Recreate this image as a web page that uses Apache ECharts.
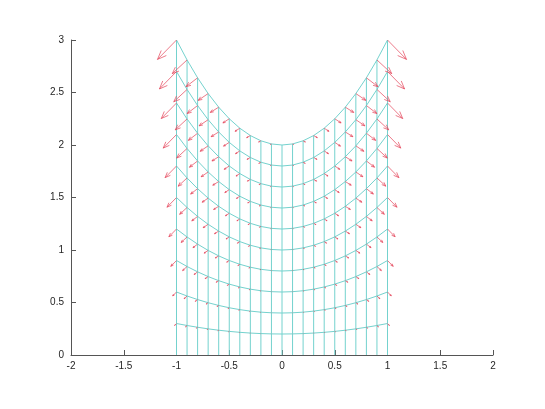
<!DOCTYPE html>
<html>
<head>
<meta charset="utf-8">
<script src="https://cdn.jsdelivr.net/npm/echarts@6/dist/echarts.min.js"></script>
<style>html,body{margin:0;padding:0;background:#fff;}#chart{width:545px;height:409px;}</style>
</head>
<body>
<div id="chart"></div>
<script>
// grid columns (x positions of mesh lines)
const xs = [-1,-0.9,-0.8,-0.7,-0.6,-0.5,-0.4,-0.3,-0.2,-0.1,0,0.1,0.2,0.3,0.4,0.5,0.6,0.7,0.8,0.9,1];
// top-curve height at each column
const profile = [3,2.81,2.64,2.49,2.36,2.25,2.16,2.09,2.04,2.01,2,2.01,2.04,2.09,2.16,2.25,2.36,2.49,2.64,2.81,3];
// level fractions of each mesh row
const levels = [0,0.1,0.2,0.3,0.4,0.5,0.6,0.7,0.8,0.9,1];
// arrow components at the top row (scaled by level for lower rows)
const arrowU = [-0.18,-0.14,-0.11,-0.095,-0.08,-0.06,-0.045,-0.035,-0.022,-0.01,0,0.01,0.022,0.035,0.045,0.06,0.08,0.095,0.11,0.14,0.18];
const arrowV = [-0.185,-0.13,-0.085,-0.065,-0.05,-0.04,-0.03,-0.02,-0.012,-0.005,0,-0.005,-0.012,-0.02,-0.03,-0.04,-0.05,-0.065,-0.085,-0.13,-0.185];
// axis ticks
const xTicks = [-2,-1.5,-1,-0.5,0,0.5,1,1.5,2];
const yTicks = [0,0.5,1,1.5,2,2.5,3];

const meshColor = '#74d2ce';
const arrowColor = '#e4475c';
const series = [];

// row curves
levels.forEach((t, j) => {
  if (t === 0) return;
  series.push({
    type: 'line', silent: true, showSymbol: false, animation: false,
    lineStyle: { color: meshColor, width: 1 },
    data: xs.map((x, i) => [x, t * profile[i]])
  });
});
// column lines
xs.forEach((x, i) => {
  series.push({
    type: 'line', silent: true, showSymbol: false, animation: false,
    lineStyle: { color: meshColor, width: 1 },
    data: levels.map(t => [x, t * profile[i]])
  });
});
// arrows
const arrowData = [];
levels.forEach(t => {
  if (t === 0) return;
  xs.forEach((x, i) => {
    arrowData.push([x, t * profile[i], t * arrowU[i], t * arrowV[i]]);
  });
});
series.push({
  type: 'custom', silent: true, animation: false, z: 5,
  encode: { x: 0, y: 1 },
  data: arrowData,
  renderItem: function (params, api) {
    const x = api.value(0), y = api.value(1), u = api.value(2), v = api.value(3);
    const p0 = api.coord([x, y]);
    const p1 = api.coord([x + u, y + v]);
    const dx = p1[0] - p0[0], dy = p1[1] - p0[1];
    const a = 0.33, b = 0.4;
    const h1 = [p1[0] - a * (dx + b * dy), p1[1] - a * (dy - b * dx)];
    const h2 = [p1[0] - a * (dx - b * dy), p1[1] - a * (dy + b * dx)];
    return {
      type: 'group',
      children: [
        { type: 'polyline', shape: { points: [p0, p1] }, style: { stroke: arrowColor, lineWidth: 0.8, fill: null, opacity: 0.9 } },
        { type: 'polyline', shape: { points: [h1, p1, h2] }, style: { stroke: arrowColor, lineWidth: 0.8, fill: null, opacity: 0.9 } }
      ]
    };
  }
});

const axisCommon = {
  axisLine: { show: true, onZero: false, lineStyle: { color: '#555', width: 1 } },
  axisTick: { show: true, inside: true, length: 5, lineStyle: { color: '#555' } },
  splitLine: { show: false },
  axisLabel: { color: '#262626', fontFamily: 'Liberation Sans, Helvetica, Arial', fontSize: 10 }
};

const chart = echarts.init(document.getElementById('chart'), null, { renderer: 'canvas' });
chart.setOption({
  animation: false,
  backgroundColor: '#ffffff',
  grid: { left: 71, right: 52, top: 40, bottom: 54, containLabel: false },
  xAxis: Object.assign({}, axisCommon, {
    type: 'value', min: xTicks[0], max: xTicks[xTicks.length - 1], interval: 0.5,
    axisLabel: Object.assign({}, axisCommon.axisLabel, { margin: 6 })
  }),
  yAxis: Object.assign({}, axisCommon, {
    type: 'value', min: yTicks[0], max: yTicks[yTicks.length - 1], interval: 0.5,
    axisLabel: Object.assign({}, axisCommon.axisLabel, { margin: 7 })
  }),
  series: series
});
</script>
</body>
</html>
